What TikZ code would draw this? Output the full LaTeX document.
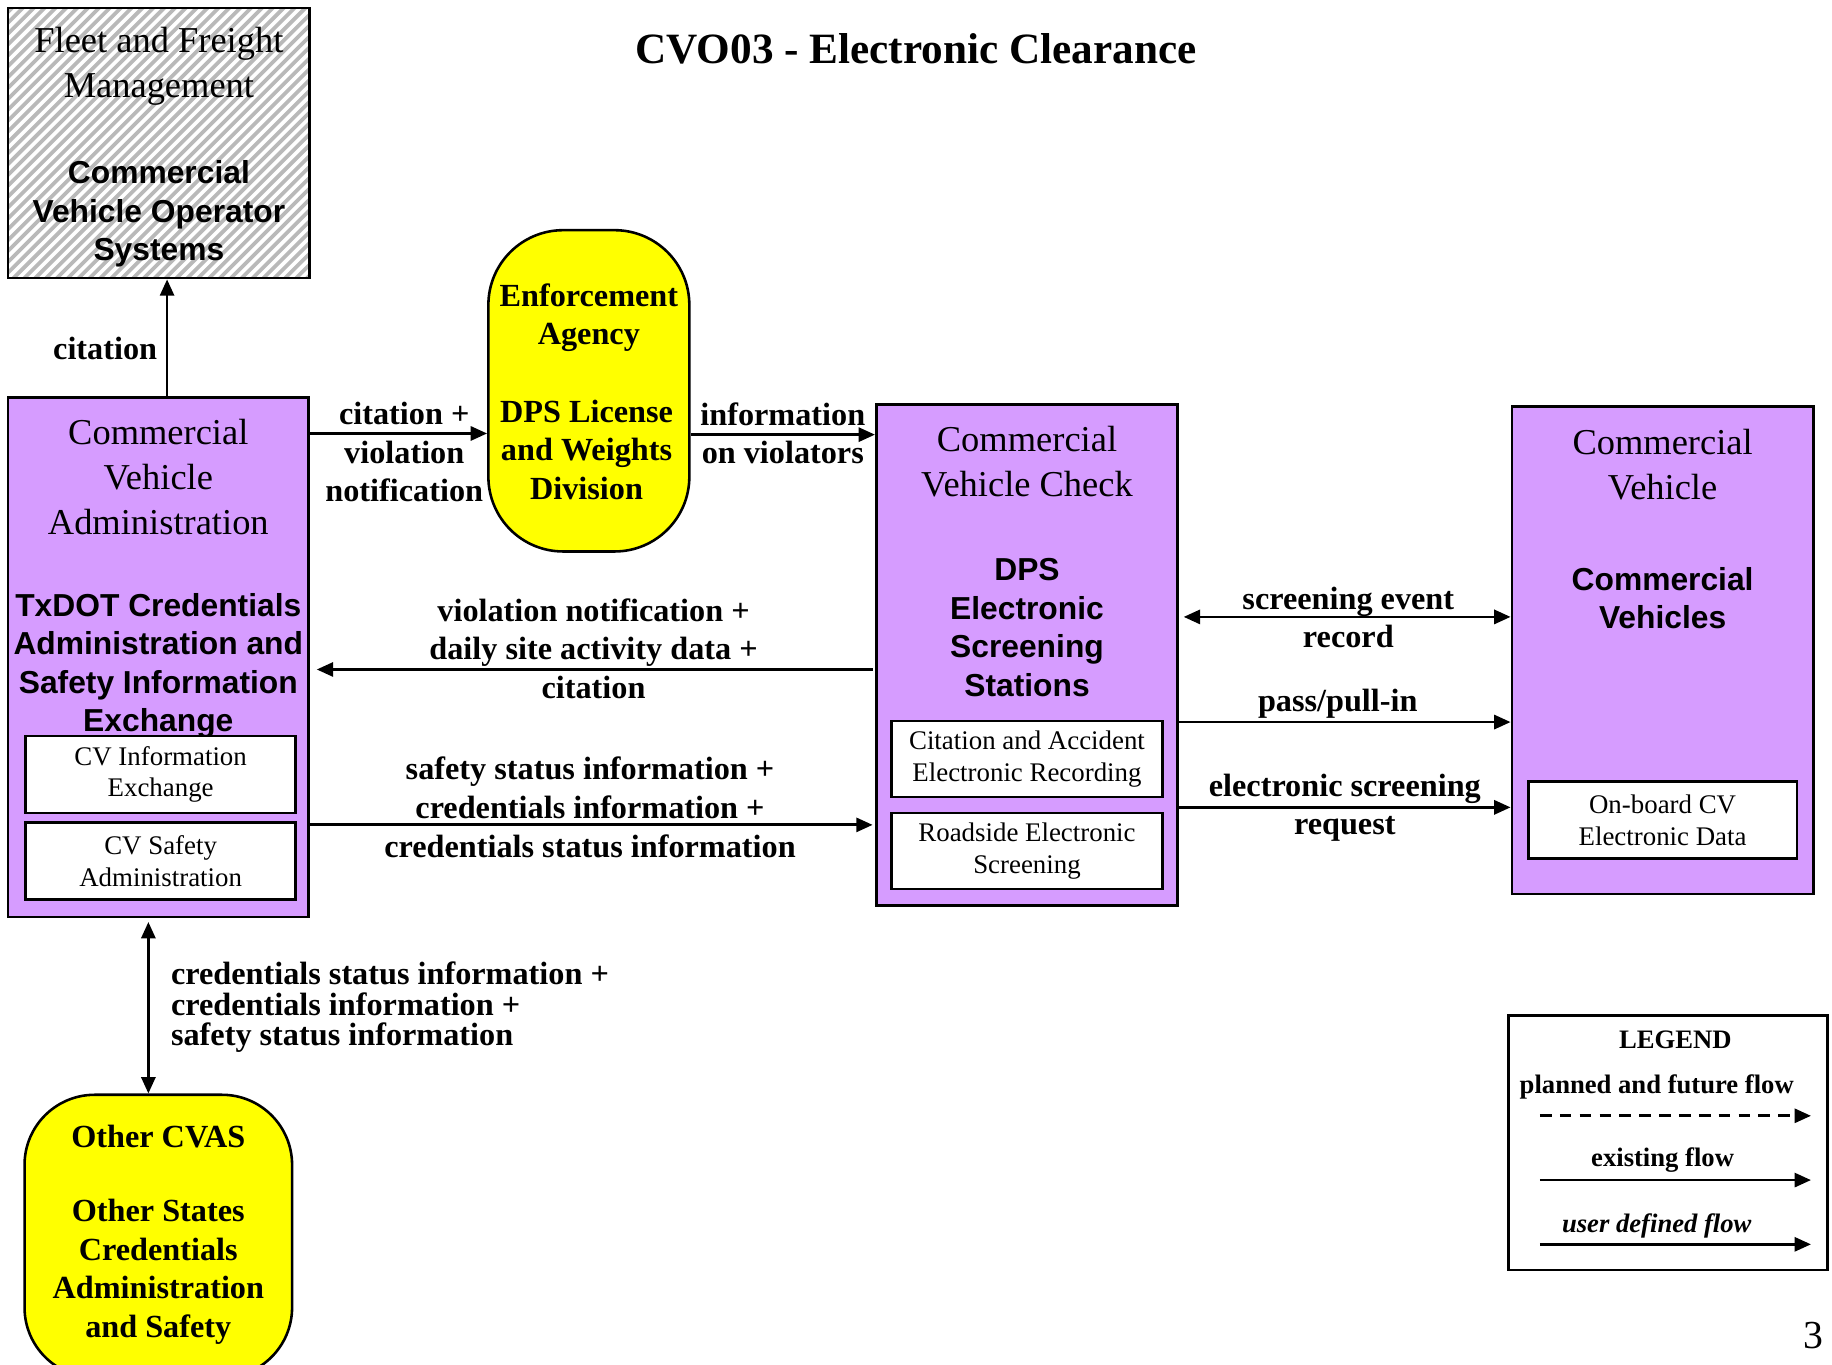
\documentclass[tikz,border=0pt]{standalone}
\usepackage{fontspec}
\setmainfont{Liberation Serif}
\setsansfont{Liberation Sans}
\usetikzlibrary{arrows.meta}
\definecolor{cvpurple}{RGB}{214,156,255}
\definecolor{eayellow}{RGB}{255,255,0}
\begin{document}
\begin{tikzpicture}[x=0.5pt,y=-0.5pt,
  cvbox/.style={draw=black, line width=1.1pt, fill=cvpurple, inner sep=0pt, rectangle},
  subbox/.style={draw=black, line width=1.1pt, fill=white, inner sep=0pt, rectangle, align=center, font=\fontsize{11.5}{13.5}\selectfont},
  termbox/.style={draw=black, line width=1.1pt, fill=eayellow, inner sep=0pt, rectangle, rounded corners=32pt},
  hdrtxt/.style={font=\fontsize{15.6}{19.25}\selectfont, align=center, inner sep=0pt},
  bsanstxt/.style={font=\sffamily\bfseries\fontsize{13.6}{16.5}\selectfont, align=center, inner sep=0pt},
  lbltxt/.style={font=\bfseries\fontsize{13.8}{16.5}\selectfont, align=center, inner sep=0pt},
  legtxt/.style={font=\bfseries\fontsize{11.4}{13.5}\selectfont, align=center, inner sep=0pt},
  flowarr/.style={line width=1.2pt, -{Triangle[length=7pt,width=6pt]}},
  dflowarr/.style={line width=1.2pt, {Triangle[length=7pt,width=6pt]}-{Triangle[length=7pt,width=6pt]}}
]
\useasboundingbox (0,0) rectangle (1568,1168);

% title
\node[font=\bfseries\fontsize{18.5}{22}\selectfont, inner sep=0pt] (title) at (784,42) {CVO03 - Electronic Clearance};

% Fleet box (hatched)
\node[draw=black, line width=1.1pt, fill=white, inner sep=0pt, minimum width=129pt, minimum height=115.5pt,
  path picture={\foreach \i in {-385,-375.7,...,140} \draw[gray!55, line width=1.6pt] (\i,125) -- ++(250,-250);}]
  (fleet) at (136,122.5) {};
\node[hdrtxt] (fleett1) at (136,57) {Fleet and Freight\\Management};
\node[bsanstxt] (fleett2) at (136,183) {Commercial\\Vehicle Operator\\Systems};

% CVA box
\node[cvbox, minimum width=128.5pt, minimum height=222.5pt] (cva) at (135.5,562.5) {};
\node[hdrtxt] (cvat1) at (135.5,408) {Commercial\\Vehicle\\Administration};
\node[bsanstxt] (cvat2) at (135.5,570) {TxDOT Credentials\\Administration and\\Safety Information\\Exchange};
\node[subbox, minimum width=115.5pt, minimum height=33pt] (cvie) at (137.5,663) {CV Information\\Exchange};
\node[subbox, minimum width=115.5pt, minimum height=33pt] (cvsa) at (137.5,737) {CV Safety\\Administration};

% Enforcement agency
\node[termbox, minimum width=86pt, minimum height=137.5pt] (ea) at (504,334.5) {};
\node[lbltxt] (eat1) at (504,272) {Enforcement\\Agency};
\node[lbltxt] (eat2) at (502,385) {DPS License\\and Weights\\Division};

% CVC box
\node[cvbox, minimum width=129pt, minimum height=214.5pt] (cvc) at (879,560.5) {};
\node[hdrtxt] (cvct1) at (879,395) {Commercial\\Vehicle Check};
\node[bsanstxt] (cvct2) at (879,537) {DPS\\Electronic\\Screening\\Stations};
\node[subbox, minimum width=116pt, minimum height=32.5pt] (care) at (879,649.5) {Citation and Accident\\Electronic Recording};
\node[subbox, minimum width=116pt, minimum height=32.5pt] (res) at (879,728.5) {Roadside Electronic\\Screening};

% CV box
\node[cvbox, minimum width=129pt, minimum height=208.5pt] (cv) at (1423,556.5) {};
\node[hdrtxt] (cvt1) at (1423,398) {Commercial\\Vehicle};
\node[bsanstxt] (cvt2) at (1423,512) {Commercial\\Vehicles};
\node[subbox, minimum width=115pt, minimum height=33pt] (obcv) at (1423,702) {On-board CV\\Electronic Data};

% Other CVAS
\node[termbox, minimum width=114.5pt, minimum height=121pt, rounded corners=30pt] (other) at (135.5,1058) {};
\node[lbltxt] (othert1) at (135.5,973) {Other CVAS};
\node[lbltxt] (othert2) at (135.5,1088.5) {Other States\\Credentials\\Administration\\and Safety};

% connectors
\draw[flowarr] (cva.north -| 143,0) -- (fleet.south -| 143,0);
\node[lbltxt] (l1) at (90,298) {citation};

\draw[flowarr] (cva.east |- 0,371) -- (ea.west |- 0,371);
\node[lbltxt] (l2) at (346,387) {citation +\\violation\\notification};

\draw[flowarr] (ea.east |- 0,372) -- (cvc.west |- 0,372);
\node[lbltxt] (l3) at (670,371) {information\\on violators};

\draw[flowarr] ([xshift=-1pt]cvc.west |- 0,573) -- ([xshift=3pt]cva.east |- 0,573);
\node[lbltxt] (l4) at (508,555) {violation notification +\\daily site activity data +\\citation};

\draw[flowarr] (cva.east |- 0,706) -- ([xshift=-1pt]cvc.west |- 0,706);
\node[lbltxt] (l5) at (505,691) {safety status information +\\credentials information +\\credentials status information};

\draw[dflowarr] ([xshift=2pt]cvc.east |- 0,528) -- (cv.west |- 0,528);
\node[lbltxt] (l6) at (1154,528.5) {screening event\\record};

\draw[flowarr] (cvc.east |- 0,618) -- (cv.west |- 0,618);
\node[lbltxt] (l7) at (1145,602) {pass/pull-in};

\draw[flowarr] (cvc.east |- 0,691) -- (cv.west |- 0,691);
\node[lbltxt] (l8) at (1151,691.5) {electronic screening\\request};

\draw[dflowarr] ([yshift=-1.5pt]cva.south -| 127,0) -- (other.north -| 127,0);
\node[lbltxt, align=left, anchor=west, font=\bfseries\fontsize{13.8}{13.25}\selectfont] (l9) at (146,862) {credentials status information +\\credentials information +\\safety status information};

% legend
\node[draw=black, line width=1.1pt, fill=white, inner sep=0pt, minimum width=136.5pt, minimum height=109pt] (legend) at (1427.5,978) {};
\node[legtxt] (lgt0) at (1434,890) {LEGEND};
\node[legtxt] (lgt1) at (1418,930) {planned and future flow};
\coordinate (lg1a) at (1318,955);
\coordinate (lg1b) at (1550,955);
\draw[flowarr, dash pattern=on 5pt off 3.5pt] (lg1a) -- (lg1b);
\node[legtxt] (lgt2) at (1423,993) {existing flow};
\coordinate (lg2a) at (1318,1010);
\coordinate (lg2b) at (1550,1010);
\draw[flowarr] (lg2a) -- (lg2b);
\node[legtxt, font=\bfseries\itshape\fontsize{11.4}{13.5}\selectfont] (lgt3) at (1418,1049) {user defined flow};
\coordinate (lg3a) at (1318,1065);
\coordinate (lg3b) at (1550,1065);
\draw[flowarr] (lg3a) -- (lg3b);

% page number
\node[font=\fontsize{17}{20}\selectfont, inner sep=0pt] (pgno) at (1552,1143) {3};
\end{tikzpicture}
\end{document}
